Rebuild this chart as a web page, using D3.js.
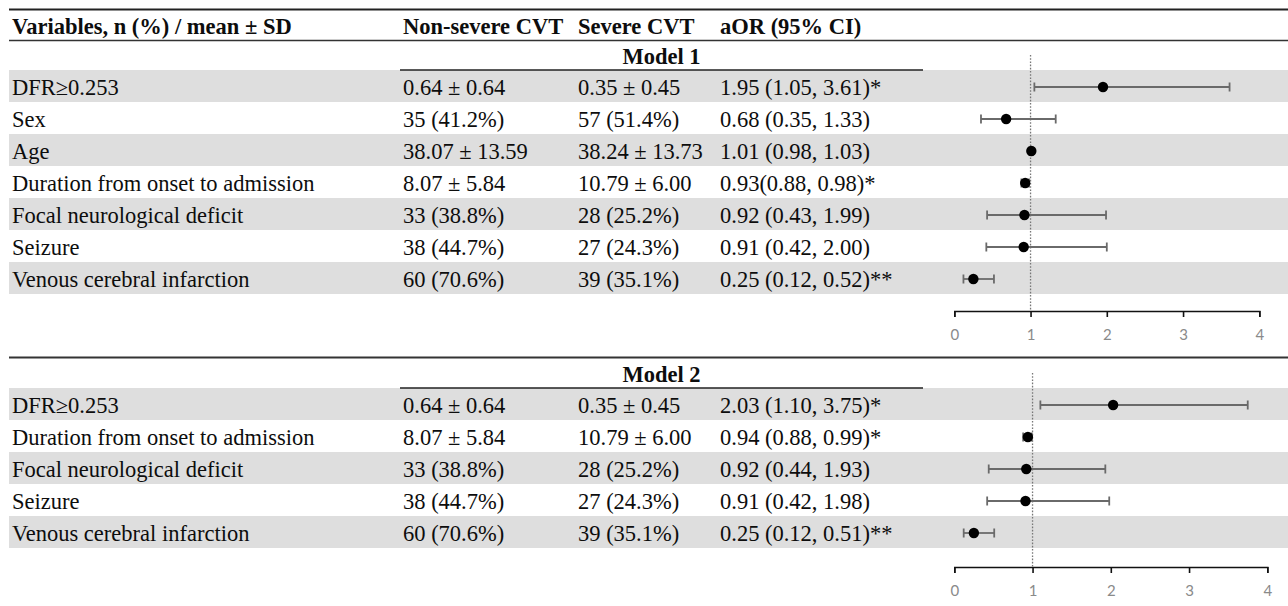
<!DOCTYPE html>
<html>
<head>
<meta charset="utf-8">
<script src="https://cdn.jsdelivr.net/npm/d3@7"></script>
<style>
  html, body { margin: 0; padding: 0; background: #fff; }
  svg { display: block; }
  .serif { font-family: "Liberation Serif", "Times New Roman", serif; fill: #0d0d0d; }
  .axis text { font-family: Lato, "Open Sans", sans-serif; fill: #8a8a8a; font-size: 15px; }
</style>
</head>
<body>
<svg id="chart" width="1288" height="606"></svg>
<script>
// ---- data ----
const headers = ["Variables, n (%) / mean \u00b1 SD", "Non-severe CVT", "Severe CVT", "aOR (95% CI)"];
const modelNames = ["Model 1", "Model 2"];

const variables1 = ["DFR\u22650.253", "Sex", "Age", "Duration from onset to admission",
  "Focal neurological deficit", "Seizure", "Venous cerebral infarction"];
const nonSevere1 = ["0.64 \u00b1 0.64", "35 (41.2%)", "38.07 \u00b1 13.59", "8.07 \u00b1 5.84",
  "33 (38.8%)", "38 (44.7%)", "60 (70.6%)"];
const severe1 = ["0.35 \u00b1 0.45", "57 (51.4%)", "38.24 \u00b1 13.73", "10.79 \u00b1 6.00",
  "28 (25.2%)", "27 (24.3%)", "39 (35.1%)"];
const aor1 = [1.95, 0.68, 1.01, 0.93, 0.92, 0.91, 0.25];
const lower1 = [1.05, 0.35, 0.98, 0.88, 0.43, 0.42, 0.12];
const upper1 = [3.61, 1.33, 1.03, 0.98, 1.99, 2.00, 0.52];
const signif1 = ["*", "", "", "*", "", "", "**"];
const gap1 = [" ", " ", " ", "", " ", " ", " "];

const variables2 = ["DFR\u22650.253", "Duration from onset to admission",
  "Focal neurological deficit", "Seizure", "Venous cerebral infarction"];
const nonSevere2 = ["0.64 \u00b1 0.64", "8.07 \u00b1 5.84", "33 (38.8%)", "38 (44.7%)", "60 (70.6%)"];
const severe2 = ["0.35 \u00b1 0.45", "10.79 \u00b1 6.00", "28 (25.2%)", "27 (24.3%)", "39 (35.1%)"];
const aor2 = [2.03, 0.94, 0.92, 0.91, 0.25];
const lower2 = [1.10, 0.88, 0.44, 0.42, 0.12];
const upper2 = [3.75, 0.99, 1.93, 1.98, 0.51];
const signif2 = ["*", "*", "", "", "**"];
const gap2 = [" ", " ", " ", " ", " "];

const axisTicks = [0, 1, 2, 3, 4];
const referenceOR = 1;

// ---- layout ----
const W = 1288;
const left = 9;
const colX = [12, 403, 578, 720];
const rowH = 32;
const fontSize = 22.5;
const bandColor = "#dedede";

const svg = d3.select("#chart");

const fmt = d3.format(".2f");

function buildRows(vars, ns, sv, or, lo, hi, sig, gap) {
  return vars.map((v, i) => ({
    name: v, ns: ns[i], sv: sv[i], or: or[i], lo: lo[i], hi: hi[i],
    label: `${fmt(or[i])}${gap[i]}(${fmt(lo[i])}, ${fmt(hi[i])})${sig[i]}`
  }));
}

const models = [
  { title: modelNames[0], rows: buildRows(variables1, nonSevere1, severe1, aor1, lower1, upper1, signif1, gap1),
    headTop: 40, xRange: [954.3, 1259.3], axisGap: 17 },
  { title: modelNames[1], rows: buildRows(variables2, nonSevere2, severe2, aor2, lower2, upper2, signif2, gap2),
    headTop: 358, xRange: [954.3, 1267.3], axisGap: 19 }
];

// ---- column header ----
svg.append("g").selectAll("text")
  .data(headers)
  .join("text")
  .attr("class", "serif")
  .attr("x", (d, i) => colX[i])
  .attr("y", 33.5)
  .attr("font-size", fontSize)
  .attr("font-weight", "bold")
  .text(d => d);

svg.append("line").attr("x1", left).attr("x2", W).attr("y1", 9.5).attr("y2", 9.5)
  .attr("stroke", "#222").attr("stroke-width", 2);
svg.append("line").attr("x1", left).attr("x2", W).attr("y1", 40.5).attr("y2", 40.5)
  .attr("stroke", "#333").attr("stroke-width", 1.6);

// ---- model sections ----
models.forEach((m, mi) => {
  const g = svg.append("g");
  const rowsTop = m.headTop + 30;
  const y = d3.scaleBand()
    .domain(d3.range(m.rows.length))
    .range([rowsTop, rowsTop + rowH * m.rows.length])
    .paddingInner(0).paddingOuter(0);
  const x = d3.scaleLinear().domain([axisTicks[0], axisTicks[axisTicks.length - 1]]).range(m.xRange);

  // alternating row bands
  g.append("g").selectAll("rect")
    .data(d3.range(0, m.rows.length, 2))
    .join("rect")
    .attr("x", left).attr("width", W - left)
    .attr("y", i => y(i)).attr("height", y.bandwidth())
    .attr("fill", bandColor);

  // model title and its rule
  g.append("text").attr("class", "serif")
    .attr("x", 661.5).attr("y", m.headTop + 23.5)
    .attr("text-anchor", "middle")
    .attr("font-size", fontSize).attr("font-weight", "bold")
    .text(m.title);
  g.append("line").attr("x1", 400).attr("x2", 923)
    .attr("y1", rowsTop).attr("y2", rowsTop)
    .attr("stroke", "#222").attr("stroke-width", 1.6);

  // table cells
  const cols = ["name", "ns", "sv", "label"];
  const rowG = g.append("g").selectAll("g")
    .data(m.rows)
    .join("g")
    .attr("transform", (d, i) => `translate(0,${y(i) + 24.5})`);
  cols.forEach((c, ci) => {
    rowG.append("text").attr("class", "serif")
      .attr("x", colX[ci]).attr("y", 0)
      .attr("font-size", fontSize)
      .text(d => d[c]);
  });

  // axis
  const axisY = rowsTop + rowH * m.rows.length + m.axisGap;
  const axisG = g.append("g").attr("class", "axis")
    .attr("transform", `translate(0,${axisY})`)
    .call(d3.axisBottom(x).tickValues(axisTicks).tickFormat(d3.format("d")).tickSize(6).tickPadding(12));
  axisG.selectAll("path, line").attr("stroke", "#111").attr("stroke-width", 1.6);

  // reference line at OR = 1
  g.append("line")
    .attr("x1", x(referenceOR)).attr("x2", x(referenceOR))
    .attr("y1", m.headTop + 15).attr("y2", axisY)
    .attr("stroke", "#777").attr("stroke-width", 1.3)
    .attr("stroke-dasharray", "1.6,1.6");

  // confidence intervals
  const ci = g.append("g").selectAll("g")
    .data(m.rows)
    .join("g")
    .attr("transform", (d, i) => `translate(0,${y(i) + rowH / 2 + 1})`);
  ci.append("line")
    .attr("x1", d => x(d.lo)).attr("x2", d => x(d.hi))
    .attr("stroke", "#6a6a6a").attr("stroke-width", 1.8);
  ["lo", "hi"].forEach(k => {
    ci.append("line")
      .attr("x1", d => x(d[k])).attr("x2", d => x(d[k]))
      .attr("y1", -4.5).attr("y2", 4.5)
      .attr("stroke", "#6a6a6a").attr("stroke-width", 1.8);
  });
  ci.append("circle")
    .attr("cx", d => x(d.or)).attr("cy", 0).attr("r", 5.2)
    .attr("fill", "#000");

  // separator between the two models
  if (mi === 0) {
    svg.append("line").attr("x1", left).attr("x2", W).attr("y1", 357.5).attr("y2", 357.5)
      .attr("stroke", "#333").attr("stroke-width", 2);
  }
});
</script>
</body>
</html>
